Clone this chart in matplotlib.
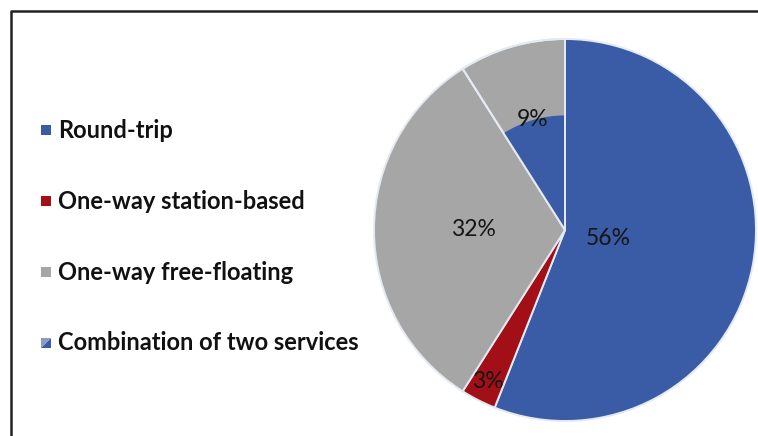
import numpy as np
import matplotlib
matplotlib.use('Agg')
from matplotlib import pyplot as plt
from matplotlib.patches import Wedge, Rectangle, Polygon

plt.rcParams['font.family'] = ['Lato', 'DejaVu Sans']

# car sharing service types
categories = ['Round-trip', 'One-way station-based', 'One-way free-floating',
              'Combination of two services']
shares = [56, 3, 32, 9]
colors = ['#3A5BA6', '#A30F16', '#A6A6A6', '#A6A6A6']
label_r = [0.23, 0.89, 0.48, 0.60]   # where each % label sits, as fraction of radius

W, H = 758, 436
fig = plt.figure(figsize=(W / 100, H / 100), dpi=100)
ax = fig.add_axes([0, 0, 1, 1])

cx, cy, R = 565, H - 230, 191
wedges, _ = ax.pie(shares, colors=colors, startangle=90, counterclock=False,
                   center=(cx, cy), radius=R, frame=True,
                   wedgeprops=dict(edgecolor='#E4EAF2', linewidth=1.4))
ax.set_xlim(0, W)
ax.set_ylim(0, H)
ax.set_aspect('equal')
ax.axis('off')

# combination slice: blue core inside grey wedge
comb = wedges[3]
core = Wedge((cx, cy), R * 0.6, comb.theta1, comb.theta2, facecolor=colors[0],
             edgecolor='none', zorder=comb.get_zorder() + 0.1)
ax.add_patch(core)
edge = Wedge((cx, cy), R, comb.theta1, comb.theta2, facecolor='none',
             edgecolor='#E4EAF2', linewidth=1.4, zorder=comb.get_zorder() + 0.2)
ax.add_patch(edge)

for w, s, f in zip(wedges, shares, label_r):
    ang = np.deg2rad((w.theta1 + w.theta2) / 2)
    ax.text(cx + f * R * np.cos(ang), cy + f * R * np.sin(ang), f'{s}%',
            ha='center', va='center', fontsize=16.5, color='#151515', zorder=5)

# legend
ys = [130, 201, 272, 343]
for i, (name, y) in enumerate(zip(categories, ys)):
    y0 = H - y
    if i < 3:
        ax.add_patch(Rectangle((41, y0 - 5), 10, 10, facecolor=colors[i], edgecolor='none'))
    else:
        ax.add_patch(Polygon([(41, y0 - 5), (51, y0 - 5), (51, y0 + 5)],
                             facecolor=colors[0], edgecolor='none'))
        ax.add_patch(Polygon([(41, y0 - 5), (41, y0 + 5), (51, y0 + 5)],
                             facecolor='#8C9BBF', edgecolor='none'))
    ax.text(58, y0, name, ha='left', va='center', fontsize=17,
            fontweight='bold', color='#111111')

# outer frame (top and left)
ax.plot([11, 11, W + 5], [-5, H - 11, H - 11], color='#222222', linewidth=1.8,
        solid_capstyle='butt', clip_on=False)

fig.savefig('out.png', dpi=100)
